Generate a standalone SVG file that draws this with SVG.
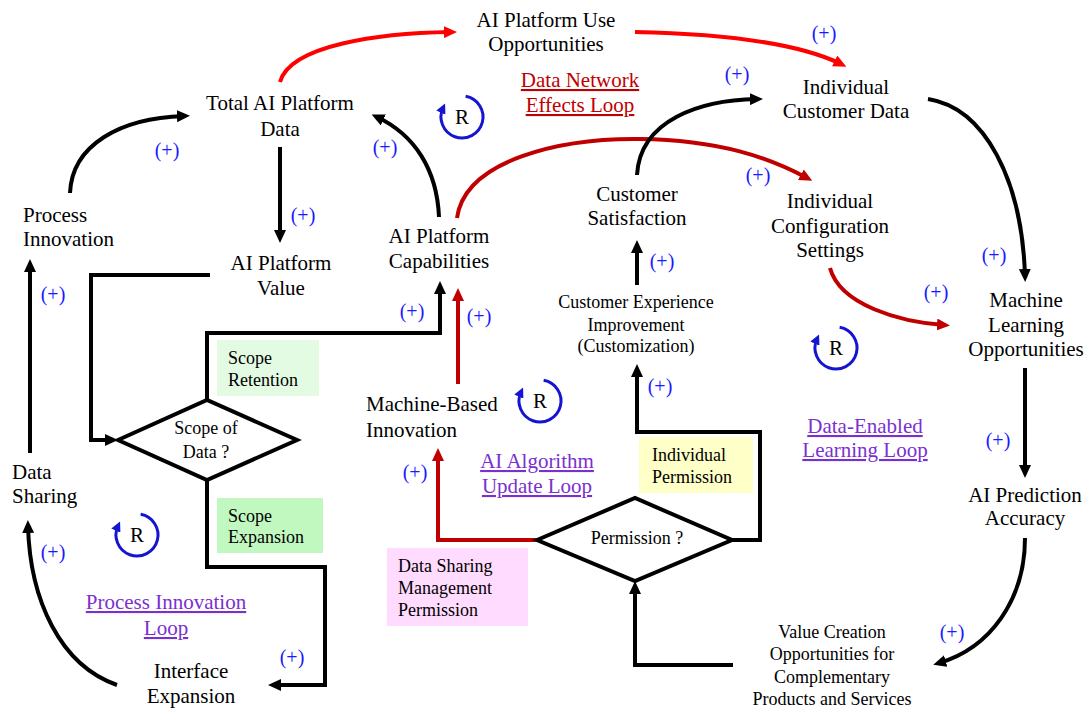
<svg xmlns="http://www.w3.org/2000/svg" width="1088" height="711" viewBox="0 0 1088 711">
<style>
text{font-family:"Liberation Serif","Times New Roman",serif;font-size:21px;fill:#000;text-anchor:middle}
.s{font-size:18px}
.l{text-anchor:start}
.p{fill:#1a1aff;font-size:20px}
.R{font-size:21px}
.u{text-decoration:underline}
.dn{fill:#c00000}
.pu{fill:#7a30d0}
.c{fill:none;stroke:#000;stroke-width:4}
.cr{fill:none;stroke:#ff0000;stroke-width:4}
.cd{fill:none;stroke:#c00000;stroke-width:4}
.lp{fill:none;stroke:#1414d2;stroke-width:3}
.dia{fill:#fff;stroke:#000;stroke-width:4}
</style>
<defs>
<marker id="ab" markerUnits="userSpaceOnUse" markerWidth="13" markerHeight="12" viewBox="0 0 13 12" refX="7" refY="6" orient="auto"><path d="M0,0 L13,6 L0,12 z" fill="#000"/></marker>
<marker id="ar" markerUnits="userSpaceOnUse" markerWidth="13" markerHeight="12" viewBox="0 0 13 12" refX="7" refY="6" orient="auto"><path d="M0,0 L13,6 L0,12 z" fill="#ff0000"/></marker>
<marker id="ad" markerUnits="userSpaceOnUse" markerWidth="13" markerHeight="12" viewBox="0 0 13 12" refX="7" refY="6" orient="auto"><path d="M0,0 L13,6 L0,12 z" fill="#c00000"/></marker>
<marker id="abl" markerUnits="userSpaceOnUse" markerWidth="10" markerHeight="10" viewBox="0 0 10 10" refX="5" refY="5" orient="auto"><path d="M0,0 L10,5 L0,10 z" fill="#1414d2"/></marker>
</defs>

<g id="connectors">
<path class="c" marker-end="url(#ab)" d="M70,193 C72,145 120,118 184,116"/>
<path class="c" marker-end="url(#ab)" d="M280,147 V237"/>
<path class="c" marker-end="url(#ab)" d="M210,275 H91 V440 H112"/>
<path class="c" marker-end="url(#ab)" d="M207,400 V333 H440 V287"/>
<path class="cd" marker-end="url(#ad)" d="M458,384 V294"/>
<path class="c" marker-end="url(#ab)" d="M207,480 V567 H325 V685 H274"/>
<path class="c" marker-end="url(#ab)" d="M117,685 C60,665 30,600 28,526"/>
<path class="c" marker-end="url(#ab)" d="M30,453 V265"/>
<path class="c" marker-end="url(#ab)" d="M439,217 C437,170 415,135 377,117"/>
<path class="cr" marker-end="url(#ar)" d="M280,82 C290,45 380,33 451,32"/>
<path class="cr" marker-end="url(#ar)" d="M635,32 C730,34 800,44 841,64"/>
<path class="cd" marker-end="url(#ad)" d="M457,218 C465,160 560,138 640,139 C720,140 770,158 807,178"/>
<path class="c" marker-end="url(#ab)" d="M637,175 C640,120 700,100 757,99"/>
<path class="c" marker-end="url(#ab)" d="M637,285 V246"/>
<path class="c" marker-end="url(#ab)" d="M732,540 H760 V432 H637 V370"/>
<path class="cd" marker-end="url(#ad)" d="M537,540 H438 V454"/>
<path class="c" marker-end="url(#ab)" d="M733,665 H635 V587"/>
<path class="c" marker-end="url(#ab)" d="M928,99 C985,108 1022,180 1025,276"/>
<path class="cd" marker-end="url(#ad)" d="M830,268 C840,305 900,322 944,325"/>
<path class="c" marker-end="url(#ab)" d="M1025,368 V472"/>
<path class="c" marker-end="url(#ab)" d="M1025,538 C1025,600 990,648 939,663"/>
</g>

<g id="polarities">
<text class="p" x="167" y="157">(+)</text>
<text class="p" x="303" y="222">(+)</text>
<text class="p" x="385" y="154">(+)</text>
<text class="p" x="412" y="318">(+)</text>
<text class="p" x="479" y="323">(+)</text>
<text class="p" x="415" y="479">(+)</text>
<text class="p" x="53" y="301">(+)</text>
<text class="p" x="53" y="559">(+)</text>
<text class="p" x="292" y="664">(+)</text>
<text class="p" x="662" y="268">(+)</text>
<text class="p" x="660" y="393">(+)</text>
<text class="p" x="737" y="81">(+)</text>
<text class="p" x="824" y="40">(+)</text>
<text class="p" x="758" y="182">(+)</text>
<text class="p" x="994" y="262">(+)</text>
<text class="p" x="936" y="299">(+)</text>
<text class="p" x="998" y="447">(+)</text>
<text class="p" x="952" y="639">(+)</text>
</g>

<g id="loops">
<path class="lp" marker-end="url(#abl)" d="M465.65,96.32 A21,21 0 1 1 442.97,108.13"/>
<text class="R" x="462" y="124">R</text>
<path class="lp" marker-end="url(#abl)" d="M543.65,380.32 A21,21 0 1 1 520.97,392.13"/>
<text class="R" x="540" y="408">R</text>
<path class="lp" marker-end="url(#abl)" d="M839.65,327.32 A21,21 0 1 1 816.97,339.13"/>
<text class="R" x="836" y="355">R</text>
<path class="lp" marker-end="url(#abl)" d="M140.65,514.32 A21,21 0 1 1 117.97,526.13"/>
<text class="R" x="137" y="542">R</text>
</g>

<g id="loop-labels">
<text class="u dn" x="580" y="87"><tspan x="580">Data Network</tspan><tspan x="580" y="112">Effects Loop</tspan></text>
<text class="u pu" x="537" y="468"><tspan x="537">AI Algorithm</tspan><tspan x="537" y="493">Update Loop</tspan></text>
<text class="u pu" x="865" y="433"><tspan x="865">Data-Enabled</tspan><tspan x="865" y="457">Learning Loop</tspan></text>
<text class="u pu" x="166" y="609"><tspan x="166">Process Innovation</tspan><tspan x="166" y="635">Loop</tspan></text>
</g>

<g id="n-aiuse"><text x="546" y="27"><tspan x="546">AI Platform Use</tspan><tspan x="546" y="51">Opportunities</tspan></text></g>
<g id="n-total"><text x="280" y="110"><tspan x="280">Total AI Platform</tspan><tspan x="280" y="136">Data</tspan></text></g>
<g id="n-process"><text class="l" x="23" y="222"><tspan x="23">Process</tspan><tspan x="23" y="246">Innovation</tspan></text></g>
<g id="n-value"><text x="281" y="270"><tspan x="281">AI Platform</tspan><tspan x="281" y="295">Value</tspan></text></g>
<g id="n-cap"><text x="439" y="243"><tspan x="439">AI Platform</tspan><tspan x="439" y="268">Capabilities</tspan></text></g>
<g id="n-sat"><text x="637" y="201"><tspan x="637">Customer</tspan><tspan x="637" y="225">Satisfaction</tspan></text></g>
<g id="n-icd"><text x="846" y="94"><tspan x="846">Individual</tspan><tspan x="846" y="118">Customer Data</tspan></text></g>
<g id="n-config"><text x="830" y="208"><tspan x="830">Individual</tspan><tspan x="830" y="233">Configuration</tspan><tspan x="830" y="257">Settings</tspan></text></g>
<g id="n-mlo"><text x="1026" y="307"><tspan x="1026">Machine</tspan><tspan x="1026" y="332">Learning</tspan><tspan x="1026" y="356">Opportunities</tspan></text></g>
<g id="n-aipa"><text x="1025" y="502"><tspan x="1025">AI Prediction</tspan><tspan x="1025" y="525">Accuracy</tspan></text></g>
<g id="n-vco"><text class="s" x="832" y="638"><tspan x="832">Value Creation</tspan><tspan x="832" y="660">Opportunities for</tspan><tspan x="832" y="683">Complementary</tspan><tspan x="832" y="705">Products and Services</tspan></text></g>
<g id="n-cei"><text class="s" x="636" y="308"><tspan x="636">Customer Experience</tspan><tspan x="636" y="331">Improvement</tspan><tspan x="636" y="352">(Customization)</tspan></text></g>
<g id="n-mbi"><text class="l" x="366" y="411"><tspan x="366">Machine-Based</tspan><tspan x="366" y="437">Innovation</tspan></text></g>
<g id="n-ds"><text class="l" x="12" y="479"><tspan x="12">Data</tspan><tspan x="12" y="503">Sharing</tspan></text></g>
<g id="n-ie"><text x="191" y="678"><tspan x="191">Interface</tspan><tspan x="191" y="703">Expansion</tspan></text></g>

<g id="n-scope">
<polygon class="dia" points="118,440 207,400 297,440 207,480"/>
<text class="s" x="206" y="434"><tspan x="206">Scope of</tspan><tspan x="206" y="458">Data ?</tspan></text>
</g>
<g id="n-perm">
<polygon class="dia" points="537,540 635,498 732,540 635,581"/>
<text class="s" x="637" y="544">Permission ?</text>
</g>

<g id="b-retention">
<rect x="217" y="340" width="102" height="56" fill="#e3fbe3"/>
<text class="s l" x="228" y="364"><tspan x="228">Scope</tspan><tspan x="228" y="386">Retention</tspan></text>
</g>
<g id="b-expansion">
<rect x="217" y="498" width="106" height="55" fill="#c0f8c0"/>
<text class="s l" x="228" y="522"><tspan x="228">Scope</tspan><tspan x="228" y="543">Expansion</tspan></text>
</g>
<g id="b-indperm">
<rect x="639" y="437" width="114" height="56" fill="#ffffc8"/>
<text class="s l" x="652" y="461"><tspan x="652">Individual</tspan><tspan x="652" y="483">Permission</tspan></text>
</g>
<g id="b-dsmp">
<rect x="387" y="548" width="141" height="78" fill="#ffdcff"/>
<text class="s l" x="398" y="572"><tspan x="398">Data Sharing</tspan><tspan x="398" y="594">Management</tspan><tspan x="398" y="616">Permission</tspan></text>
</g>
</svg>
